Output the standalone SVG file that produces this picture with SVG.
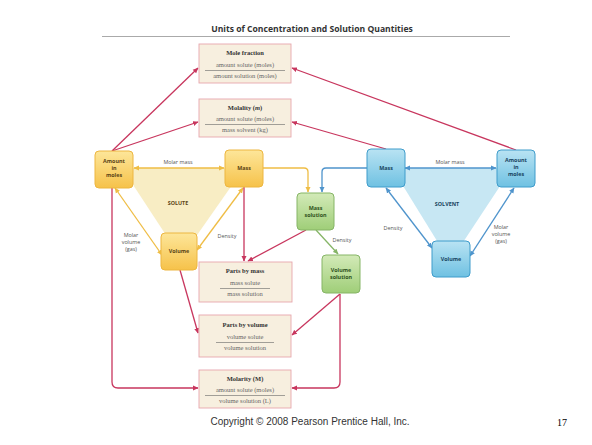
<svg xmlns="http://www.w3.org/2000/svg" width="592" height="445" viewBox="0 0 592 445">
<defs>
<linearGradient id="gY" x1="0" y1="0" x2="0" y2="1"><stop offset="0" stop-color="#fde69a"/><stop offset="1" stop-color="#f6c24a"/></linearGradient>
<linearGradient id="gB" x1="0" y1="0" x2="0" y2="1"><stop offset="0" stop-color="#b9e3f3"/><stop offset="1" stop-color="#6fc1e2"/></linearGradient>
<linearGradient id="gG" x1="0" y1="0" x2="0" y2="1"><stop offset="0" stop-color="#d3eab8"/><stop offset="1" stop-color="#9fce78"/></linearGradient>
<marker id="aR" markerWidth="6" markerHeight="6" refX="5" refY="3" orient="auto" markerUnits="userSpaceOnUse"><path d="M0,0.5 L5.5,3 L0,5.5 Z" fill="#c8365e"/></marker>
<marker id="aY" markerWidth="6" markerHeight="6" refX="5" refY="3" orient="auto-start-reverse" markerUnits="userSpaceOnUse"><path d="M0,0.5 L5.5,3 L0,5.5 Z" fill="#efbd45"/></marker>
<marker id="aB" markerWidth="6" markerHeight="6" refX="5" refY="3" orient="auto-start-reverse" markerUnits="userSpaceOnUse"><path d="M0,0.5 L5.5,3 L0,5.5 Z" fill="#4f94cc"/></marker>
<marker id="aG" markerWidth="6" markerHeight="6" refX="5" refY="3" orient="auto" markerUnits="userSpaceOnUse"><path d="M0,0.5 L5.5,3 L0,5.5 Z" fill="#86b567"/></marker>
</defs>
<style>
.title{font-family:"Open Sans","Liberation Sans",sans-serif;font-weight:bold;font-size:8.6px;fill:#333;text-anchor:middle}
.cbox{fill:#f7efdf;stroke:#e6a6ae;stroke-width:0.9}
.ct{font-family:"Liberation Serif",serif;font-weight:bold;font-size:6.5px;fill:#333;text-anchor:middle}
.cf{font-family:"Liberation Serif",serif;font-size:6.5px;fill:#666;text-anchor:middle}
.fl{stroke:#666;stroke-width:0.6}
.ny{fill:url(#gY);stroke:#edb640;stroke-width:1}
.nb{fill:url(#gB);stroke:#3f9ccb;stroke-width:1}
.ng{fill:url(#gG);stroke:#86b567;stroke-width:1}
.nl{font-family:"Open Sans","Liberation Sans",sans-serif;font-weight:bold;font-size:5.4px;text-anchor:middle}
.lbl{font-family:"Open Sans","Liberation Sans",sans-serif;font-size:5.4px;fill:#555;text-anchor:middle}
.red{fill:none;stroke:#c8365e;stroke-width:1.3;marker-end:url(#aR)}
.yel{fill:none;stroke:#efbd45;stroke-width:1.3}
.blu{fill:none;stroke:#4f94cc;stroke-width:1.3}
.grn{fill:none;stroke:#86b567;stroke-width:1.3;marker-end:url(#aG)}
</style>
<rect width="592" height="445" fill="#fff"/>
<text class="title" x="312" y="32">Units of Concentration and Solution Quantities</text>
<line x1="102" y1="36.5" x2="510" y2="36.5" stroke="#aaa" stroke-width="1.2"/>

<!-- triangles -->
<polygon points="122,168 244,168 181,258" fill="#f8edc4"/>
<polygon points="392,168 512,168 450,262" fill="#c7e7f3"/>

<g id="connectors">
<!-- solute triangle -->
<line class="yel" x1="134" y1="168" x2="224" y2="168" marker-start="url(#aY)" marker-end="url(#aY)"/>
<line class="yel" x1="115" y1="188" x2="162" y2="255" marker-start="url(#aY)" marker-end="url(#aY)"/>
<line class="yel" x1="243" y1="188" x2="197" y2="250" marker-start="url(#aY)" marker-end="url(#aY)"/>
<path class="yel" d="M263,168 H304 Q308,168 308,172 V192" marker-end="url(#aY)"/>
<!-- solvent triangle -->
<line class="blu" x1="405" y1="168" x2="496" y2="168" marker-start="url(#aB)" marker-end="url(#aB)"/>
<line class="blu" x1="386" y1="188" x2="432" y2="248" marker-start="url(#aB)" marker-end="url(#aB)"/>
<line class="blu" x1="514" y1="188" x2="470" y2="256" marker-start="url(#aB)" marker-end="url(#aB)"/>
<path class="blu" d="M367,168 H326 Q322,168 322,172 V192" marker-end="url(#aB)"/>
<!-- green -->
<line class="grn" x1="316" y1="230" x2="338" y2="254"/>
<!-- red -->
<line class="red" x1="112" y1="151" x2="198" y2="68"/>
<line class="red" x1="112" y1="151" x2="198" y2="122"/>
<line class="red" x1="516" y1="150" x2="292" y2="68"/>
<line class="red" x1="386" y1="149" x2="292" y2="122"/>
<line class="red" x1="244" y1="187" x2="244" y2="261"/>
<line class="red" x1="306" y1="230" x2="248" y2="261"/>
<line class="red" x1="180" y1="270" x2="198" y2="333"/>
<line class="red" x1="340" y1="294" x2="292" y2="335"/>
<path class="red" d="M112,188 V382 Q112,388 118,388 H198"/>
<path class="red" d="M340,294 V382 Q340,388 334,388 H292"/>
</g>

<g id="mole-fraction">
<rect class="cbox" x="199" y="44" width="92" height="39"/>
<text class="ct" x="245" y="55">Mole fraction</text>
<text class="cf" x="245" y="67">amount solute (moles)</text>
<line class="fl" x1="205" y1="70.5" x2="285" y2="70.5"/>
<text class="cf" x="245" y="78">amount solution (moles)</text>
</g>
<g id="molality">
<rect class="cbox" x="199" y="99" width="92" height="38"/>
<text class="ct" x="245" y="110">Molality (<tspan font-style="italic">m</tspan>)</text>
<text class="cf" x="245" y="121">amount solute (moles)</text>
<line class="fl" x1="205" y1="124.5" x2="285" y2="124.5"/>
<text class="cf" x="245" y="132">mass solvent (kg)</text>
</g>
<g id="parts-by-mass">
<rect class="cbox" x="199" y="262" width="93" height="40"/>
<text class="ct" x="245" y="273">Parts by mass</text>
<text class="cf" x="245" y="285">mass solute</text>
<line class="fl" x1="220" y1="288.5" x2="270" y2="288.5"/>
<text class="cf" x="245" y="296">mass solution</text>
</g>
<g id="parts-by-volume">
<rect class="cbox" x="199" y="315" width="92" height="42"/>
<text class="ct" x="245" y="327">Parts by volume</text>
<text class="cf" x="245" y="339">volume solute</text>
<line class="fl" x1="216" y1="342.5" x2="274" y2="342.5"/>
<text class="cf" x="245" y="350">volume solution</text>
</g>
<g id="molarity">
<rect class="cbox" x="199" y="370" width="92" height="38"/>
<text class="ct" x="245" y="381">Molarity (M)</text>
<text class="cf" x="245" y="392">amount solute (moles)</text>
<line class="fl" x1="205" y1="395.5" x2="285" y2="395.5"/>
<text class="cf" x="245" y="403">volume solution (L)</text>
</g>

<g id="solute-amount">
<rect class="ny" x="95" y="151" width="38" height="37" rx="4"/>
<text class="nl" fill="#5a4415" x="114" y="163">Amount</text>
<text class="nl" fill="#5a4415" x="114" y="170">in</text>
<text class="nl" fill="#5a4415" x="114" y="177">moles</text>
</g>
<g id="solute-mass">
<rect class="ny" x="225" y="150" width="38" height="37" rx="4"/>
<text class="nl" fill="#5a4415" x="244" y="170">Mass</text>
</g>
<g id="solute-volume">
<rect class="ny" x="161" y="233" width="36" height="37" rx="4"/>
<text class="nl" fill="#5a4415" x="179" y="253">Volume</text>
</g>
<g id="mass-solution">
<rect class="ng" x="297" y="193" width="37" height="37" rx="4"/>
<text class="nl" fill="#2f5220" x="315.5" y="210">Mass</text>
<text class="nl" fill="#2f5220" x="315.5" y="217">solution</text>
</g>
<g id="volume-solution">
<rect class="ng" x="322" y="255" width="38" height="38" rx="4"/>
<text class="nl" fill="#2f5220" x="341" y="272">Volume</text>
<text class="nl" fill="#2f5220" x="341" y="279">solution</text>
</g>
<g id="solvent-mass">
<rect class="nb" x="367" y="149" width="38" height="38" rx="4"/>
<text class="nl" fill="#17445e" x="386" y="170">Mass</text>
</g>
<g id="solvent-amount">
<rect class="nb" x="497" y="150" width="38" height="37" rx="4"/>
<text class="nl" fill="#17445e" x="516" y="162">Amount</text>
<text class="nl" fill="#17445e" x="516" y="169">in</text>
<text class="nl" fill="#17445e" x="516" y="176">moles</text>
</g>
<g id="solvent-volume">
<rect class="nb" x="432" y="241" width="38" height="36" rx="4"/>
<text class="nl" fill="#17445e" x="451" y="261">Volume</text>
</g>

<g id="labels">
<text class="lbl" x="178" y="164">Molar mass</text>
<text class="nl" fill="#5a4415" x="178" y="205">SOLUTE</text>
<text class="lbl" x="131" y="237">Molar</text>
<text class="lbl" x="131" y="244">volume</text>
<text class="lbl" x="131" y="251">(gas)</text>
<text class="lbl" x="227" y="238">Density</text>
<text class="lbl" x="450" y="164">Molar mass</text>
<text class="nl" fill="#17445e" x="447" y="206">SOLVENT</text>
<text class="lbl" x="393" y="230">Density</text>
<text class="lbl" x="501" y="229">Molar</text>
<text class="lbl" x="501" y="236">volume</text>
<text class="lbl" x="501" y="243">(gas)</text>
<text class="lbl" x="342" y="242">Density</text>
</g>

<text x="310" y="425" font-family="Liberation Sans, Arial, sans-serif" font-size="10" fill="#333" text-anchor="middle">Copyright © 2008 Pearson Prentice Hall, Inc.</text>
<text x="562" y="426" font-family="Liberation Serif, serif" font-size="10" fill="#000" text-anchor="middle">17</text>
</svg>
